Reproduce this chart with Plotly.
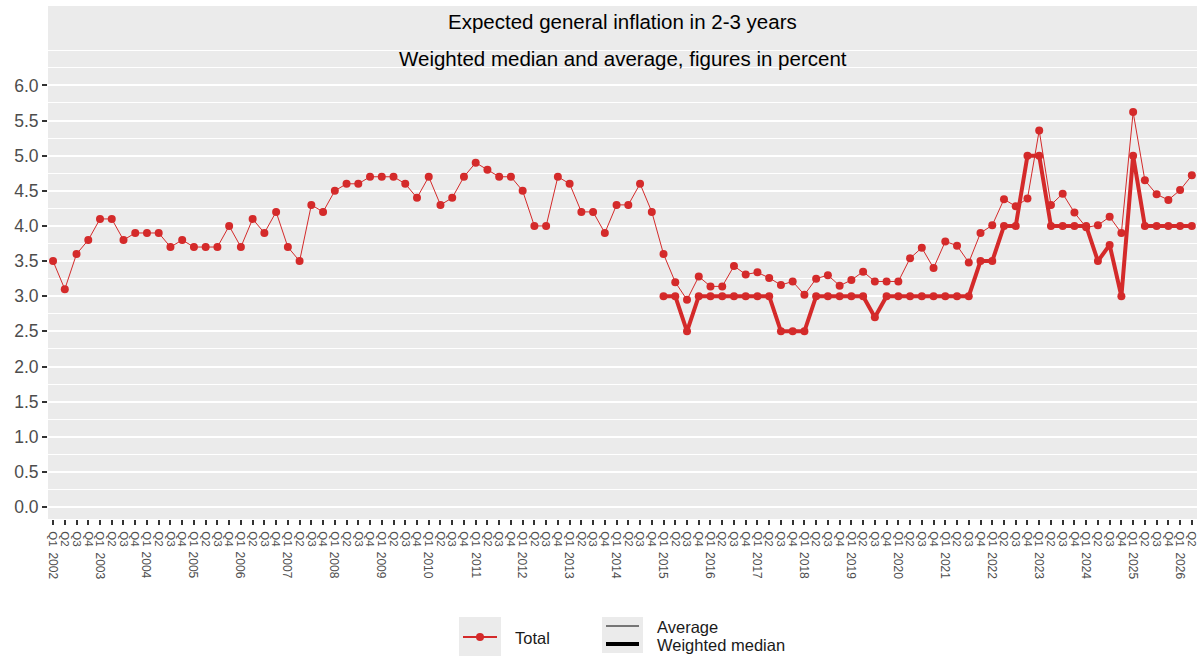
import plotly.graph_objects as go

# ---- data -----------------------------------------------------------------
years = list(range(2002, 2027))
quarters = ["Q1", "Q2", "Q3", "Q4"]
n_periods = 98  # 2002 Q1 .. 2026 Q2

periods = [f"{y} {q}" for y in years for q in quarters][:n_periods]
quarter_labels = [p.split(" ")[1] for p in periods]

# Average expectation, percent
average = [
    3.5, 3.1, 3.6, 3.8,      # 2002
    4.1, 4.1, 3.8, 3.9,      # 2003
    3.9, 3.9, 3.7, 3.8,      # 2004
    3.7, 3.7, 3.7, 4.0,      # 2005
    3.7, 4.1, 3.9, 4.2,      # 2006
    3.7, 3.5, 4.3, 4.2,      # 2007
    4.5, 4.6, 4.6, 4.7,      # 2008
    4.7, 4.7, 4.6, 4.4,      # 2009
    4.7, 4.3, 4.4, 4.7,      # 2010
    4.9, 4.8, 4.7, 4.7,      # 2011
    4.5, 4.0, 4.0, 4.7,      # 2012
    4.6, 4.2, 4.2, 3.9,      # 2013
    4.3, 4.3, 4.6, 4.2,      # 2014
    3.6, 3.2, 2.95, 3.28,    # 2015
    3.14, 3.14, 3.43, 3.31,  # 2016
    3.34, 3.26, 3.16, 3.21,  # 2017
    3.02, 3.25, 3.30, 3.15,  # 2018
    3.23, 3.35, 3.21, 3.21,  # 2019
    3.21, 3.54, 3.69, 3.40,  # 2020
    3.78, 3.72, 3.48, 3.90,  # 2021
    4.01, 4.38, 4.28, 4.39,  # 2022
    5.36, 4.30, 4.46, 4.19,  # 2023
    3.98, 4.01, 4.13, 3.90,  # 2024
    5.62, 4.65, 4.45, 4.37,  # 2025
    4.51, 4.72,              # 2026
]

# Weighted median, available from 2015 Q1
median_start = "2015 Q1"
weighted_median = [
    3.0, 3.0, 2.5, 3.0,      # 2015
    3.0, 3.0, 3.0, 3.0,      # 2016
    3.0, 3.0, 2.5, 2.5,      # 2017
    2.5, 3.0, 3.0, 3.0,      # 2018
    3.0, 3.0, 2.7, 3.0,      # 2019
    3.0, 3.0, 3.0, 3.0,      # 2020
    3.0, 3.0, 3.0, 3.5,      # 2021
    3.5, 4.0, 4.0, 5.0,      # 2022
    5.0, 4.0, 4.0, 4.0,      # 2023
    4.0, 3.5, 3.73, 3.0,     # 2024
    5.0, 4.0, 4.0, 4.0,      # 2025
    4.0, 4.0,                # 2026
]

y_ticks = [i * 0.5 for i in range(13)]
y_minor = [0.25 + i * 0.5 for i in range(13)] + [6.5]

title = "Expected general inflation in 2-3 years"
subtitle = "Weighted median and average, figures in percent"

# ---- style ----------------------------------------------------------------
RED = "#D42A2A"
PANEL = "#EBEBEB"
FONT = "Liberation Sans, Arial, sans-serif"

W, H = 1202, 657
M_L, M_R, M_T, M_B = 48, 5, 6, 138
PW, PH = W - M_L - M_R, H - M_T - M_B


def px(x):
    """Pixel column -> paper x."""
    return (x - M_L) / PW


def py(y):
    """Pixel row -> paper y."""
    return (H - M_B - y) / PH


fig = go.Figure()

fig.add_trace(go.Scatter(
    x=periods, y=average, mode="lines+markers", name="Average",
    line=dict(color=RED, width=1), marker=dict(color=RED, size=8),
    showlegend=False, hoverinfo="x+y",
))

m0 = periods.index(median_start)
fig.add_trace(go.Scatter(
    x=periods[m0:], y=weighted_median, mode="lines+markers",
    name="Weighted median",
    line=dict(color=RED, width=4), marker=dict(color=RED, size=8),
    showlegend=False, hoverinfo="x+y",
))

# year labels under each Q1 tick
annotations = []
for y in years:
    annotations.append(dict(
        x=f"{y} Q1", xref="x", y=py(550), yref="paper",
        text=str(y), textangle=90, showarrow=False,
        xanchor="center", yanchor="top",
        font=dict(family=FONT, size=12, color="#4D4D4D"),
    ))

# titles
annotations += [
    dict(x=0.5, y=py(21), xref="paper", yref="paper", text=title,
         showarrow=False, xanchor="center", yanchor="middle",
         font=dict(family=FONT, size=20.5, color="#000000")),
    dict(x=0.5, y=py(58), xref="paper", yref="paper", text=subtitle,
         showarrow=False, xanchor="center", yanchor="middle",
         font=dict(family=FONT, size=20.5, color="#000000")),
]

# legend
leg_font = dict(family=FONT, size=16.5, color="#1A1A1A")
annotations += [
    dict(x=px(513), y=py(638), xref="paper", yref="paper", text="Total",
         showarrow=False, xanchor="left", yanchor="middle", font=leg_font),
    dict(x=px(655), y=py(627), xref="paper", yref="paper", text="Average",
         showarrow=False, xanchor="left", yanchor="middle", font=leg_font),
    dict(x=px(655), y=py(645), xref="paper", yref="paper",
         text="Weighted median", showarrow=False, xanchor="left",
         yanchor="middle", font=leg_font),
]

shapes = [
    dict(type="rect", xref="paper", yref="paper", x0=px(459), x1=px(501),
         y0=py(656), y1=py(617), fillcolor=PANEL, line=dict(width=0)),
    dict(type="line", xref="paper", yref="paper", x0=px(463), x1=px(497),
         y0=py(637), y1=py(637), line=dict(color=RED, width=2)),
    dict(type="circle", xref="paper", yref="paper", x0=px(476), x1=px(484),
         y0=py(641), y1=py(633), fillcolor=RED, line=dict(width=0)),
    dict(type="rect", xref="paper", yref="paper", x0=px(602), x1=px(643),
         y0=py(653), y1=py(617), fillcolor=PANEL, line=dict(width=0)),
    dict(type="line", xref="paper", yref="paper", x0=px(606), x1=px(639),
         y0=py(626), y1=py(626), line=dict(color="#000000", width=1)),
    dict(type="line", xref="paper", yref="paper", x0=px(606), x1=px(639),
         y0=py(644), y1=py(644), line=dict(color="#000000", width=4)),
]

fig.update_layout(
    width=W, height=H,
    margin=dict(l=M_L, r=M_R, t=M_T, b=M_B, autoexpand=False),
    paper_bgcolor="#FFFFFF", plot_bgcolor=PANEL,
    font=dict(family=FONT),
    showlegend=False,
    annotations=annotations,
    shapes=shapes,
    xaxis=dict(
        type="category", categoryorder="array", categoryarray=periods,
        range=[-0.43, n_periods - 1 + 0.44],
        tickmode="array", tickvals=periods, ticktext=quarter_labels,
        tickangle=90, ticks="outside", ticklen=5, tickwidth=2,
        tickcolor="#333333", ticklabelstandoff=4,
        tickfont=dict(family=FONT, size=11.5, color="#4D4D4D"),
        showgrid=False, zeroline=False, showline=False,
    ),
    yaxis=dict(
        range=[-0.17, 7.13],
        tickmode="array", tickvals=y_ticks,
        ticktext=[f"{v:.1f}" for v in y_ticks],
        ticks="outside", ticklen=5, tickwidth=2, tickcolor="#333333",
        tickfont=dict(family=FONT, size=17.5, color="#4D4D4D"),
        showgrid=True, gridcolor="#FFFFFF", gridwidth=1.6,
        minor=dict(tickmode="array", tickvals=y_minor, showgrid=True,
                   gridcolor="#FFFFFF", gridwidth=0.8, ticks=""),
        zeroline=False, showline=False,
    ),
)

fig.write_html("out.html")
